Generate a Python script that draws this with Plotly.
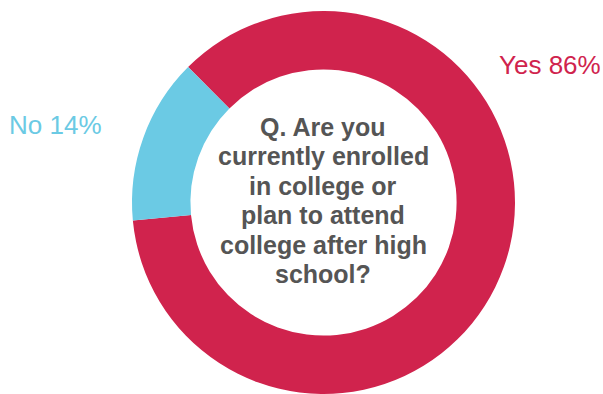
import plotly.graph_objects as go

labels = ["Yes", "No"]
values = [86, 14]
colors = ["#D0234D", "#6BCAE4"]
label_texts = ["Yes 86%", "No 14%"]
question_lines = ["Q. Are you", "currently enrolled", "in college or", "plan to attend",
                  "college after high", "school?"]

W, H = 603, 394
FONT = "Liberation Sans, Arial, Helvetica, sans-serif"
fig = go.Figure()
fig.add_trace(go.Pie(
    labels=labels, values=values, hole=0.695, sort=False,
    direction="clockwise", rotation=-45,
    marker=dict(colors=colors, line=dict(width=0)),
    textinfo="none", hoverinfo="label+percent", showlegend=False,
    domain=dict(x=[132 / W, 515 / W], y=[0, 383 / H]),
))

line_step = 29.4
first_center = 127
for i, line in enumerate(question_lines):
    fig.add_annotation(text="<b>" + line + "</b>",
                       x=323.5 / W, y=1 - (first_center + i * line_step) / H,
                       xref="paper", yref="paper",
                       showarrow=False, xanchor="center", yanchor="middle", align="center",
                       font=dict(family=FONT, size=25, color="#555555"))
fig.add_annotation(text=label_texts[0], x=497 / W, y=1 - 65 / H, xref="paper", yref="paper",
                   showarrow=False, xanchor="left", yanchor="middle",
                   font=dict(family=FONT, size=26, color=colors[0]))
fig.add_annotation(text=label_texts[1], x=7 / W, y=1 - 125 / H, xref="paper", yref="paper",
                   showarrow=False, xanchor="left", yanchor="middle",
                   font=dict(family=FONT, size=26, color=colors[1]))

fig.update_layout(width=W, height=H, margin=dict(l=0, r=0, t=0, b=0),
                  paper_bgcolor="white", plot_bgcolor="white")
fig.write_html("out.html")
